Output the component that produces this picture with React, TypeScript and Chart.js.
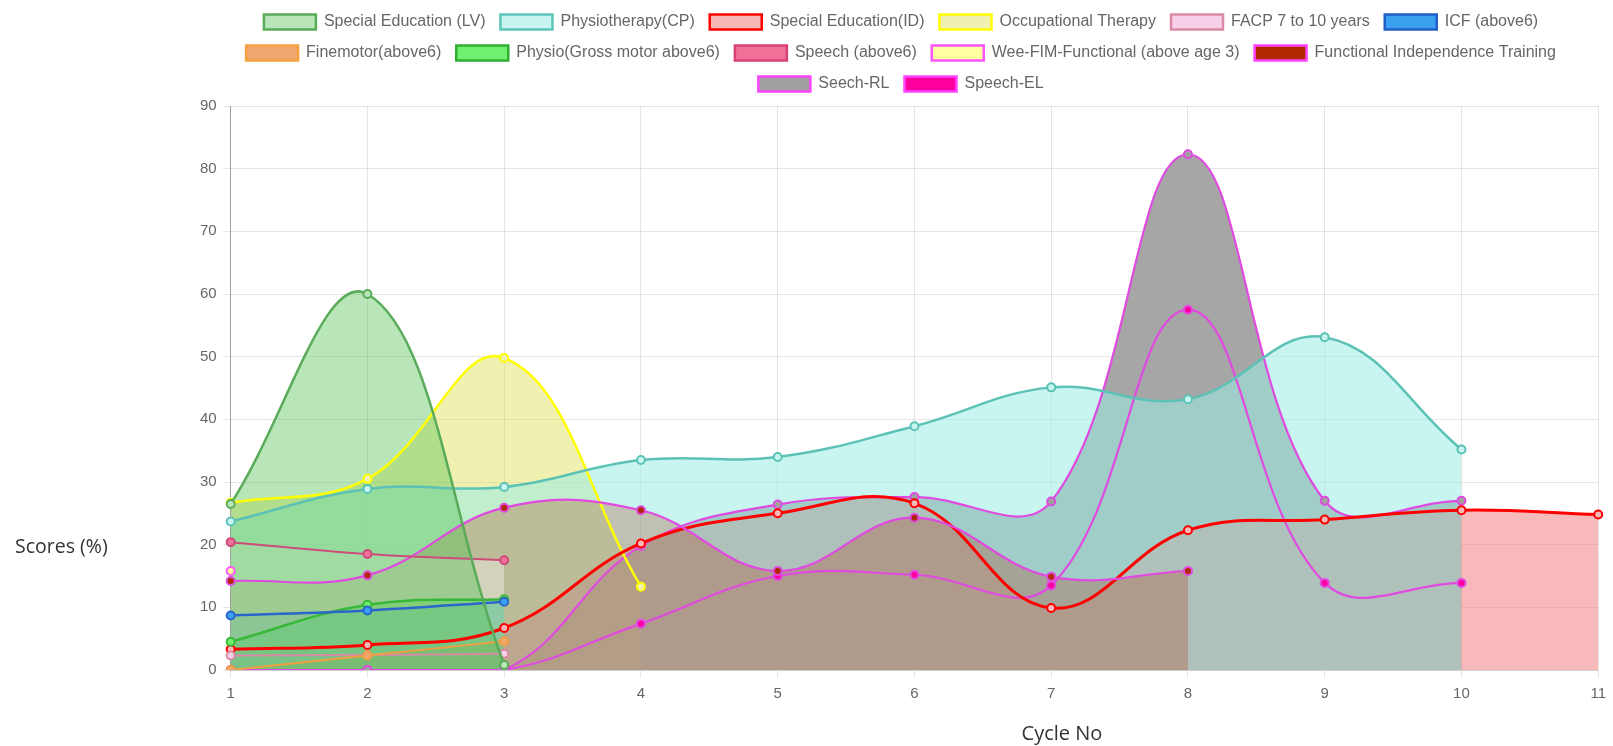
import React, { useEffect, useRef } from 'react';
import { Chart, registerables } from 'chart.js';

Chart.register(...registerables);

// ---- data ----
const cycleLabels = ['1', '2', '3', '4', '5', '6', '7', '8', '9', '10', '11'];
const yTickMin = 0;
const yTickMax = 90;
const yTickStep = 10;

const seriesNames = [
  'Special Education (LV)',
  'Physiotherapy(CP)',
  'Special Education(ID)',
  'Occupational Therapy',
  'FACP 7 to 10 years',
  'ICF (above6)',
  'Finemotor(above6)',
  'Physio(Gross motor above6)',
  'Speech (above6)',
  'Wee-FIM-Functional (above age 3)',
  'Functional Independence Training',
  'Seech-RL',
  'Speech-EL',
];

const specialEducationLV = [26.5, 60, 0.8];
const physiotherapyCP = [23.7, 28.9, 29.2, 33.5, 34.0, 38.9, 45.1, 43.2, 53.1, 35.2];
const specialEducationID = [3.3, 4.0, 6.7, 20.2, 25.0, 26.6, 9.9, 22.3, 24.0, 25.5, 24.8];
const occupationalTherapy = [26.7, 30.5, 49.8, 13.3];
const facp7to10 = [2.3, 2.4, 2.6];
const icfAbove6 = [8.7, 9.5, 10.9];
const finemotorAbove6 = [0, 2.3, 4.6];
const physioGrossMotor = [4.5, 10.4, 11.3];
const speechAbove6 = [20.4, 18.5, 17.5];
const weeFimFunctional = [15.8];
const functionalIndependence = [14.2, 15.1, 25.9, 25.5, 15.8, 24.3, 14.9, 15.8];
const seechRL = [0, 0, 0, 19.8, 26.4, 27.6, 26.9, 82.3, 27.0, 27.0];
const speechEL = [0, 0, 0, 7.4, 15.0, 15.2, 13.5, 57.5, 13.9, 13.9];

// ---- styles ----
const legendFills = ['#b8e6b8', '#c8f5ef', '#f8b8b8', '#f0f0b0', '#f5d0e8', '#3aa0f0', '#f0a870', '#70f070', '#f07098', '#ffffa0', '#b02800', '#a0a0a0', '#ff00a0'];
const legendStrokes = ['#5aab5a', '#5cc4b8', '#ff0000', '#ffff00', '#d98aa5', '#1f5fc8', '#f5a040', '#30b030', '#d84078', '#ff55ff', '#ff44ff', '#ff44ff', '#ff44ff'];
const lineColors = ['#5aab5a', '#5cc2b6', '#ff0000', '#ffff00', '#d98aa5', '#2a66cc', '#f0a040', '#38b838', '#cc4c7c', '#ff55ff', '#e04ae0', '#e04ae0', '#e04ae0'];
const fillColors = [
  'rgba(85,195,85,0.42)',
  'rgba(155,237,228,0.55)',
  'rgba(239,113,113,0.49)',
  'rgba(222,222,80,0.45)',
  'rgba(230,140,200,0.3)',
  'rgba(54,162,235,0.2)',
  'rgba(240,150,60,0.35)',
  'rgba(60,220,60,0.32)',
  'rgba(240,240,230,0.45)',
  'rgba(255,255,160,0.5)',
  'rgba(176,40,0,0.25)',
  'rgb(166,166,166)',
  'rgba(0,0,0,0)',
];
const lineWidths = [2.5, 2.5, 3, 2.5, 2, 2.5, 2, 2.5, 2, 2, 2.2, 2.2, 2.2];
const drawOrder = [0, 8, 9, 10, 5, 1, 3, 2, 4, 6, 7, 11, 12];

const legendGap = {
  id: 'legendGap',
  afterInit(chart: any) {
    const lg = chart.legend;
    if (!lg || lg.__gapPatched) return;
    const orig = lg.fit;
    lg.fit = function () {
      orig.call(this);
      this.height += 4;
    };
    lg.__gapPatched = true;
  },
};

export default function App() {
  const canvasRef = useRef<HTMLCanvasElement | null>(null);

  useEffect(() => {
    if (!canvasRef.current) return;
    const seriesValues = [
      specialEducationLV,
      physiotherapyCP,
      specialEducationID,
      occupationalTherapy,
      facp7to10,
      icfAbove6,
      finemotorAbove6,
      physioGrossMotor,
      speechAbove6,
      weeFimFunctional,
      functionalIndependence,
      seechRL,
      speechEL,
    ];
    const datasets = seriesValues.map((data, i) => ({
      label: seriesNames[i],
      data,
      borderColor: lineColors[i],
      backgroundColor: fillColors[i],
      borderWidth: lineWidths[i],
      pointBackgroundColor: legendFills[i],
      pointBorderColor: lineColors[i],
      pointRadius: 4,
      pointBorderWidth: 2,
      tension: 0.4,
      fill: 'origin',
      order: drawOrder[i],
    }));
    const font = 'Arial, "Liberation Sans", Helvetica, sans-serif';
    const chart = new Chart(canvasRef.current, {
      type: 'line',
      data: { labels: cycleLabels, datasets: datasets as any },
      options: {
        animation: false,
        responsive: true,
        maintainAspectRatio: false,
        layout: { padding: { left: 9, right: 5, top: 0, bottom: 1 } },
        plugins: {
          filler: { drawTime: 'beforeDatasetsDraw' } as any,
          tooltip: { enabled: false },
          legend: {
            position: 'top',
            labels: {
              font: { family: font, size: 16 },
              color: '#666',
              boxWidth: 52,
              boxHeight: 15,
              padding: 15,
              generateLabels: (c: any) =>
                seriesNames.map((name, i) => ({
                  text: name,
                  fillStyle: legendFills[i],
                  strokeStyle: legendStrokes[i],
                  lineWidth: 2.5,
                  hidden: !c.isDatasetVisible(i),
                  datasetIndex: i,
                  fontColor: '#666',
                })),
            },
          },
        },
        scales: {
          x: {
            type: 'category',
            offset: false,
            grid: { color: 'rgba(0,0,0,0.1)', tickLength: 8 },
            border: { color: 'rgba(0,0,0,0.1)' },
            ticks: { font: { family: font, size: 15 }, color: '#666', padding: 7, maxRotation: 0 },
          },
          y: {
            min: yTickMin,
            max: yTickMax,
            grid: { color: 'rgba(0,0,0,0.1)', tickLength: 8 },
            border: { color: 'rgba(0,0,0,0.3)' },
            ticks: { stepSize: yTickStep, font: { family: font, size: 15 }, color: '#666', padding: 6 },
          },
        },
      },
      plugins: [legendGap],
    });
    return () => chart.destroy();
  }, []);

  const titleFont = '"Open Sans", "Noto Sans", sans-serif';
  return (
    <div>
      <div style={{ position: 'fixed', left: 185, top: -1.4, width: 1428, height: 712 }}>
        <canvas ref={canvasRef} />
      </div>
      <div
        style={{
          position: 'fixed',
          left: 15,
          top: 533,
          fontFamily: titleFont,
          fontSize: 19.5,
          lineHeight: '26px',
          color: '#333',
          whiteSpace: 'nowrap',
        }}
      >
        Scores (%)
      </div>
      <div
        style={{
          position: 'fixed',
          left: 962,
          top: 720,
          width: 200,
          textAlign: 'center',
          fontFamily: titleFont,
          fontSize: 20,
          lineHeight: '26px',
          color: '#333',
          whiteSpace: 'nowrap',
        }}
      >
        Cycle No
      </div>
    </div>
  );
}
